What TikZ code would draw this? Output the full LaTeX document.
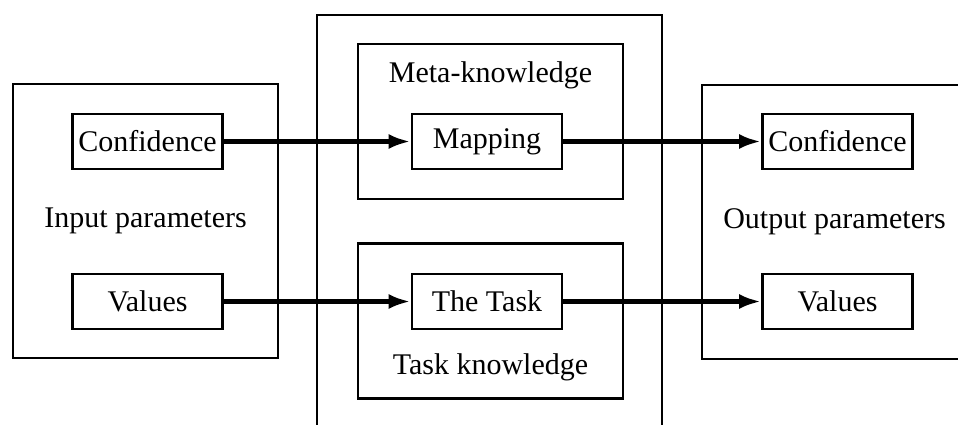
\documentclass[tikz,border=0pt]{standalone}
\usepackage{fontspec}
\setmainfont{Liberation Serif}
\usetikzlibrary{arrows.meta}

\begin{document}
\begin{tikzpicture}[x=0.5pt,y=-0.5pt,font=\fontsize{15}{18}\selectfont,
	frame/.style={draw,line width=1.4pt,inner sep=0pt},
	param/.style={frame,minimum width=75pt,minimum height=27.5pt},
	know/.style={frame,minimum width=132.5pt,minimum height=77.5pt},
	side/.style={frame,minimum width=132.5pt,minimum height=137pt},
	flow/.style={-{Latex[length=11pt,width=7.5pt]},line width=2.2pt}]
\useasboundingbox (0,0) rectangle (958,424);
\clip (0,0) rectangle (958,424);

% outer boxes
\node[side] (input) at (145.5,221) {Input parameters};
\node[side] (output) at (834.5,222) {Output parameters};
\node[frame,minimum width=172.5pt,minimum height=217.5pt] (system) at (489.5,232.5) {};
\node[know] (meta) at (490.5,121.5) {};
\node[know] (task) at (490.5,321) {};
\node (metalbl) at (490.5,75) {Meta-knowledge};
\node (tasklbl) at (490.5,367) {Task knowledge};

% inner boxes
\node[param] (inconf) at (147.5,141.5) {Confidence};
\node[param] (inval) at (147.5,301.5) {Values};
\node[param] (mapping) at (487,141.5) {Mapping};
\node[param] (thetask) at (487,301.5) {The Task};
\node[param] (outconf) at (837.5,141.5) {Confidence};
\node[param] (outval) at (837.5,301.5) {Values};

\draw[flow] (inconf) -- (mapping);
\draw[flow] (mapping) -- (outconf);
\draw[flow] (inval) -- (thetask);
\draw[flow] (thetask) -- (outval);

\end{tikzpicture}
\end{document}
